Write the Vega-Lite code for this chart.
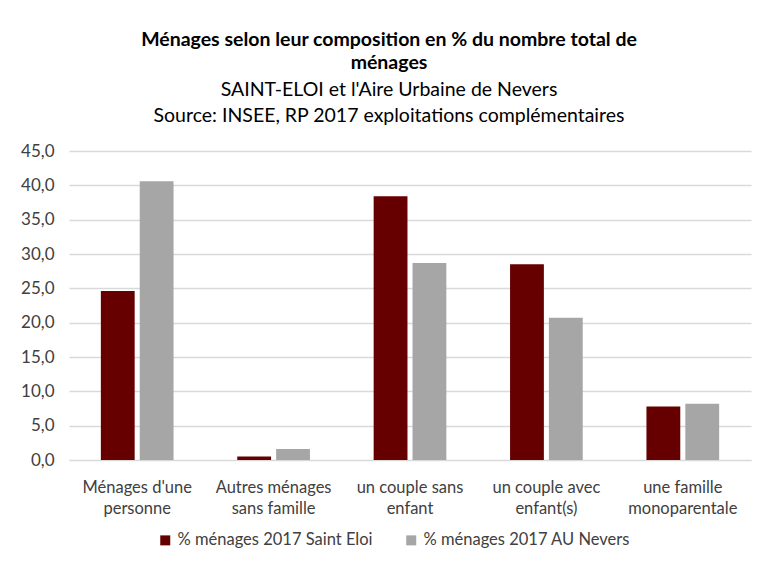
{
  "$schema": "https://vega.github.io/schema/vega-lite/v6.json",
  "width": 682,
  "height": 309,
  "padding": {"left": 20, "top": 30, "right": 8, "bottom": 5},
  "background": "white",
  "config": {
    "font": "Lato",
    "view": {"stroke": null}
  },
  "title": {
    "text": ["Ménages selon leur composition en % du nombre total de", "ménages"],
    "subtitle": ["SAINT-ELOI et l'Aire Urbaine de Nevers", "Source: INSEE, RP 2017 exploitations complémentaires"],
    "font": "Lato",
    "fontSize": 19.5,
    "fontWeight": "bold",
    "color": "#000000",
    "lineHeight": 23,
    "subtitleFont": "Lato",
    "subtitleFontSize": 19.5,
    "subtitleColor": "#000000",
    "subtitleLineHeight": 26,
    "subtitlePadding": 7,
    "anchor": "middle",
    "frame": "group",
    "dx": -21,
    "offset": 16
  },
  "data": {
    "values": [
      {"categorie": "Ménages d'une personne", "serie": "% ménages 2017 Saint Eloi", "valeur": 24.6},
      {"categorie": "Ménages d'une personne", "serie": "% ménages 2017 AU Nevers", "valeur": 40.6},
      {"categorie": "Autres ménages sans famille", "serie": "% ménages 2017 Saint Eloi", "valeur": 0.5},
      {"categorie": "Autres ménages sans famille", "serie": "% ménages 2017 AU Nevers", "valeur": 1.6},
      {"categorie": "un couple sans enfant", "serie": "% ménages 2017 Saint Eloi", "valeur": 38.4},
      {"categorie": "un couple sans enfant", "serie": "% ménages 2017 AU Nevers", "valeur": 28.7},
      {"categorie": "un couple avec enfant(s)", "serie": "% ménages 2017 Saint Eloi", "valeur": 28.5},
      {"categorie": "un couple avec enfant(s)", "serie": "% ménages 2017 AU Nevers", "valeur": 20.7},
      {"categorie": "une famille monoparentale", "serie": "% ménages 2017 Saint Eloi", "valeur": 7.8},
      {"categorie": "une famille monoparentale", "serie": "% ménages 2017 AU Nevers", "valeur": 8.2}
    ]
  },
  "mark": {"type": "bar"},
  "encoding": {
    "x": {
      "field": "categorie",
      "type": "nominal",
      "sort": null,
      "scale": {"paddingInner": 0.45, "paddingOuter": 0.225},
      "axis": {
        "title": null,
        "labelAngle": 0,
        "labelFontSize": 16.5,
        "labelColor": "#404040",
        "labelLineHeight": 21,
        "labelPadding": 19,
        "labelLimit": 200,
        "ticks": false,
        "domainColor": "#D9D9D9",
        "labelExpr": "datum.label == \"Ménages d'une personne\" ? [\"Ménages d'une\", \"personne\"] : datum.label == 'Autres ménages sans famille' ? ['Autres ménages', 'sans famille'] : datum.label == 'un couple sans enfant' ? ['un couple sans', 'enfant'] : datum.label == 'un couple avec enfant(s)' ? ['un couple avec', 'enfant(s)'] : ['une famille', 'monoparentale']"
      }
    },
    "xOffset": {
      "field": "serie",
      "type": "nominal",
      "sort": ["% ménages 2017 Saint Eloi", "% ménages 2017 AU Nevers"],
      "scale": {"paddingInner": 0.13, "paddingOuter": 0.03}
    },
    "y": {
      "field": "valeur",
      "type": "quantitative",
      "scale": {"domain": [0, 45]},
      "axis": {
        "title": null,
        "values": [0, 5, 10, 15, 20, 25, 30, 35, 40, 45],
        "labelExpr": "replace(format(datum.value, '.1f'), '.', ',')",
        "labelFontSize": 17,
        "labelColor": "#404040",
        "labelPadding": 15,
        "ticks": false,
        "domain": false,
        "gridColor": "#D9D9D9",
        "gridWidth": 1.5
      }
    },
    "color": {
      "field": "serie",
      "type": "nominal",
      "sort": ["% ménages 2017 Saint Eloi", "% ménages 2017 AU Nevers"],
      "scale": {"range": ["#660000", "#A6A6A6"]},
      "legend": {
        "title": null,
        "orient": "none",
        "legendX": 88,
        "legendY": 381,
        "direction": "horizontal",
        "symbolType": "square",
        "symbolSize": 100,
        "symbolStrokeWidth": 0,
        "labelFontSize": 16.5,
        "labelColor": "#404040",
        "labelLimit": 300,
        "columnPadding": 30
      }
    }
  }
}
